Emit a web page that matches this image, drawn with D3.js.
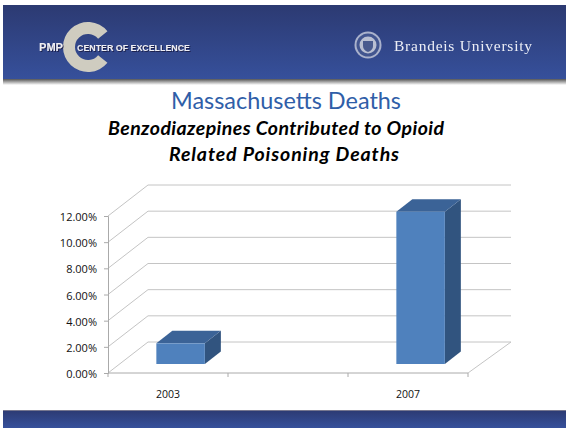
<!DOCTYPE html>
<html><head><meta charset="utf-8">
<script src="https://cdn.jsdelivr.net/npm/d3@7"></script>
<style>html,body{margin:0;padding:0;background:#fff;overflow:hidden}svg{display:block}</style>
</head><body><div id="c"></div>
<script>
const categories = ["2003", "", "2007"];
const values = [1.58, null, 11.64];
const yTicks = [0, 2, 4, 6, 8, 10, 12];
const titleText = "Massachusetts Deaths";
const subtitleLines = ["Benzodiazepines Contributed to Opioid", "Related Poisoning Deaths"];

const W = 566, H = 428;
const svg = d3.select("#c").append("svg").attr("width", W).attr("height", H);
const defs = svg.append("defs");
const grad = defs.append("linearGradient").attr("id", "hdr").attr("x1", 0).attr("x2", 0).attr("y1", 0).attr("y2", 1);
grad.append("stop").attr("offset", 0).attr("stop-color", "#2c3a72");
grad.append("stop").attr("offset", 1).attr("stop-color", "#36509b");
const shadow = defs.append("linearGradient").attr("id", "shd").attr("x1", 0).attr("x2", 0).attr("y1", 0).attr("y2", 1);
shadow.append("stop").attr("offset", 0).attr("stop-color", "#555");
shadow.append("stop").attr("offset", 1).attr("stop-color", "#fff");
defs.append("filter").attr("id", "blur").append("feGaussianBlur").attr("stdDeviation", 0.45);
defs.append("filter").attr("id", "textShadow").append("feDropShadow")
  .attr("dx", 1).attr("dy", 1).attr("stdDeviation", 0.5).attr("flood-color", "#1c2450");

// header and footer bands
svg.append("rect").attr("x", 3).attr("y", 79).attr("width", W - 3).attr("height", 6).attr("fill", "url(#shd)");
svg.append("rect").attr("x", 3).attr("y", 5).attr("width", W - 3).attr("height", 74).attr("fill", "url(#hdr)");
svg.append("rect").attr("x", 3).attr("y", 410).attr("width", W - 3).attr("height", 18).attr("fill", "url(#hdr)");
svg.append("line").attr("x1", 3).attr("x2", W).attr("y1", 410.5).attr("y2", 410.5).attr("stroke", "#77778f");

// left logo
svg.append("path")
  .attr("d", d3.arc()({innerRadius: 13, outerRadius: 25, startAngle: Math.PI / 2 + 0.68, endAngle: Math.PI * 2.5 - 0.68}))
  .attr("transform", "translate(88,47)").attr("fill", "#cfccc0").attr("filter", "url(#blur)");
svg.append("text").attr("x", 39).attr("y", 50.5).attr("font-family", "Liberation Sans").attr("font-weight", 700)
  .attr("font-size", 10).attr("fill", "#eeeef4").attr("textLength", 24).attr("lengthAdjust", "spacingAndGlyphs")
  .attr("filter", "url(#textShadow)").text("PMP");
svg.append("text").attr("x", 77).attr("y", 50.5).attr("font-family", "Liberation Sans").attr("font-weight", 700)
  .attr("font-size", 9).attr("fill", "#eeeef4").attr("textLength", 113).attr("lengthAdjust", "spacingAndGlyphs")
  .attr("filter", "url(#textShadow)").text("CENTER OF EXCELLENCE");

// right seal and name
const seal = svg.append("g").attr("transform", "translate(368,45)").attr("filter", "url(#blur)");
seal.append("circle").attr("r", 13.5).attr("fill", "#aab2cc");
seal.append("circle").attr("r", 11.5).attr("fill", "#42558f");
seal.append("circle").attr("r", 8.5).attr("fill", "#b9bfd2");
seal.append("path").attr("d", "M-5,-4H5V1Q5,5 0,7Q-5,5 -5,1Z").attr("fill", "#4a5a8e");
svg.append("text").attr("x", 394).attr("y", 51).attr("font-family", "Liberation Serif").attr("filter", "url(#blur)")
  .attr("font-size", 15.5).attr("fill", "#eceef6").attr("textLength", 138).attr("lengthAdjust", "spacing").text("Brandeis University");

// titles
svg.append("text").attr("x", 171).attr("y", 109).attr("font-family", "Lato")
  .attr("font-weight", 400).attr("font-size", 24).attr("fill", "#2f5ea8")
  .attr("textLength", 230).attr("lengthAdjust", "spacingAndGlyphs").text(titleText);
const subX = [108, 169], subLen = [336, 230];
svg.selectAll("text.sub").data(subtitleLines).join("text").attr("class", "sub")
  .attr("x", (d, i) => subX[i]).attr("y", (d, i) => 134.5 + i * 26).attr("font-family", "Lato")
  .attr("font-weight", 700).attr("font-style", "italic").attr("font-size", 19.5).attr("fill", "#000")
  .attr("textLength", (d, i) => subLen[i]).attr("lengthAdjust", "spacing").text(d => d);

// chart scales: front plane of the 3-D box
const x = d3.scaleBand().domain(categories).range([108, 468]);
const y = d3.scaleLinear().domain([0, 12]).range([373, 216]);
const depth = {dx: 40, dy: -31};

const chart = svg.append("g");
const grid = "#c4c4c4";
yTicks.forEach(t => {
  const py = y(t);
  if (t > 0) chart.append("line").attr("x1", 108).attr("y1", py).attr("x2", 108 + depth.dx).attr("y2", py + depth.dy).attr("stroke", grid);
  else chart.append("path").attr("d", `M108,${py}L${108 + depth.dx},${py + depth.dy}L${468 + depth.dx + 3},${py + depth.dy}L468,${py}`).attr("fill", "none").attr("stroke", grid);
  if (t > 0) chart.append("line").attr("x1", 108 + depth.dx).attr("y1", py + depth.dy).attr("x2", 511).attr("y2", py + depth.dy).attr("stroke", grid);
});

// axes
const yAxis = d3.axisLeft(y).tickValues(yTicks).tickSize(4).tickFormat(d => d3.format(".2f")(d) + "%");
const gy = chart.append("g").attr("transform", "translate(108,0)").call(yAxis);
const tickPositions = [108, 228, 348, 468];
const gx = chart.append("g").attr("transform", "translate(0,373)");
gx.append("line").attr("x1", 108).attr("x2", 468).attr("stroke", "#aaa");
gx.selectAll("line.t").data(tickPositions).join("line").attr("class", "t").attr("x1", d => d).attr("x2", d => d).attr("y1", 0).attr("y2", 4).attr("stroke", "#aaa");
gx.selectAll("text").data(categories).join("text").attr("x", d => x(d) + x.bandwidth() / 2).attr("y", 25)
  .attr("text-anchor", "middle").text(d => d);
gy.selectAll(".domain").attr("stroke", "#aaa");
gy.selectAll(".tick line").attr("stroke", "#aaa");
gy.selectAll("text").attr("dx", -4).attr("y", 1);
chart.selectAll("g text").attr("font-family", "Open Sans").attr("font-size", 11).attr("fill", "#111");
gx.selectAll("text").attr("font-size", 10.5);

// 3-D bars
const barW = 48.5, off = {dx: 12.6, dy: -9}, bd = {dx: 16, dy: -12.5};
const bars = chart.append("g");
categories.forEach((c, i) => {
  const v = values[i];
  if (v == null) return;
  const x0 = x(c) + (x.bandwidth() - barW) / 2 + off.dx;
  const yb = y(0) + off.dy, yt = y(v) + off.dy, x1 = x0 + barW;
  bars.append("path").attr("d", `M${x1},${yt}L${x1 + bd.dx},${yt + bd.dy}V${yb + bd.dy}L${x1},${yb}Z`).attr("fill", "#31547f");
  bars.append("path").attr("d", `M${x0},${yt}L${x0 + bd.dx},${yt + bd.dy}H${x1 + bd.dx}L${x1},${yt}Z`).attr("fill", "#3b6397");
  bars.append("rect").attr("x", x0).attr("y", yt).attr("width", barW).attr("height", yb - yt).attr("fill", "#4f81bd");
});
</script></body></html>
